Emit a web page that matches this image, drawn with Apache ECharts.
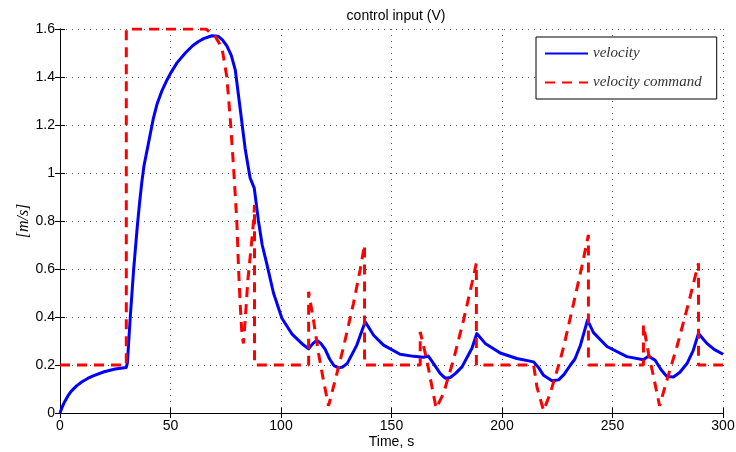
<!DOCTYPE html>
<html>
<head>
<meta charset="utf-8">
<script src="https://cdn.jsdelivr.net/npm/echarts@6/dist/echarts.min.js"></script>
<style>
html,body{margin:0;padding:0;background:#fff;}
#chart{width:736px;height:452px;}
</style>
</head>
<body>
<div id="chart"></div>
<script>
// ---- data ----
var xTicks = [0, 50, 100, 150, 200, 250, 300];
var yTicks = [0, 0.2, 0.4, 0.6, 0.8, 1, 1.2, 1.4, 1.6];

var velocityTime = [0, 1, 2, 3.5, 5, 7.5, 10, 12.5, 15, 20, 25, 30, 30.5, 31.8, 33.3, 35, 36, 37, 38, 39.3, 41, 42.3, 44, 46, 48, 50, 53, 56.7, 60, 62.7, 65, 68.7,
  71.5, 73.5, 75.5, 77.5, 79.3, 81.5, 83.8, 86, 87.9, 89.8, 91.5, 93.6, 96.6, 100.4, 104.9, 110.2, 112.5, 114.5, 116.2,
  118, 120, 122, 124, 126, 128, 130, 134.3, 138.1, 141.9, 146.4, 153.9, 160, 164.5, 166.7, 169.8, 172, 174.3,
  176.6, 179, 181.9, 186.4, 188.6, 192.4, 199.2, 206.7, 214.3, 216.5, 218.8, 222.6, 225.6, 228, 230.9, 233,
  235.4, 238.7, 241.4, 247.5, 256.5, 264, 266.3, 269.3, 272, 274.6, 277.6, 280.5, 283.7, 286.5, 288.9, 292.7,
  296, 300];
var velocityValue = [0, 0.025, 0.045, 0.07, 0.09, 0.113, 0.13, 0.144, 0.155, 0.172, 0.183, 0.19, 0.21, 0.40, 0.595, 0.78, 0.875, 0.96, 1.03, 1.09, 1.17, 1.23, 1.29, 1.34, 1.38, 1.415, 1.46, 1.50, 1.53, 1.548, 1.56, 1.572,
  1.57, 1.555, 1.53, 1.49, 1.43, 1.27, 1.10, 0.98, 0.937, 0.80, 0.70, 0.62, 0.50, 0.395, 0.33, 0.283, 0.268, 0.29, 0.303,
  0.29, 0.265, 0.225, 0.197, 0.188, 0.192, 0.207, 0.283, 0.38, 0.324, 0.283, 0.245, 0.236, 0.232, 0.237, 0.195, 0.165, 0.145,
  0.148, 0.165, 0.192, 0.27, 0.331, 0.29, 0.25, 0.227, 0.213, 0.19, 0.157, 0.134, 0.138, 0.16, 0.199, 0.225,
  0.28, 0.387, 0.335, 0.277, 0.235, 0.222, 0.237, 0.22, 0.18, 0.152, 0.15, 0.17, 0.206, 0.26, 0.331, 0.29,
  0.265, 0.245];

var commandTime = [0, 30, 30, 66, 70.2, 73.3, 75.5, 77, 78.5, 80, 80.8, 81.5, 82.3, 83, 83.8, 85, 86.8, 87.6, 88, 88,
  112.5, 112.5, 114.7, 117, 119.2, 121.5, 124.5, 128.3, 132.8, 135.8, 137.8, 137.8,
  163, 163, 166, 168.3, 170.2, 173.5, 178, 182.6, 186.4, 188.4, 188.4,
  214.3, 215.8, 218.8, 221.8, 226.3, 228, 232.4, 236.1, 239.1, 239.1,
  264, 264, 266.3, 268.6, 271.3, 274.6, 279.1, 284.4, 288.9, 288.9, 300];
var commandValue = [0.2, 0.2, 1.6, 1.6, 1.57, 1.52, 1.40, 1.23, 1.03, 0.80, 0.60, 0.46, 0.33, 0.29, 0.387, 0.554, 0.72, 0.80, 0.867, 0.2,
  0.2, 0.505, 0.387, 0.248, 0.136, 0.03, 0.136, 0.275, 0.457, 0.596, 0.70, 0.2,
  0.2, 0.338, 0.22, 0.109, 0.02, 0.081, 0.22, 0.387, 0.54, 0.624, 0.2,
  0.2, 0.109, 0.01, 0.081, 0.22, 0.28, 0.457, 0.609, 0.742, 0.2,
  0.2, 0.366, 0.248, 0.15, 0.03, 0.136, 0.275, 0.457, 0.624, 0.2, 0.2];

function zip(a, b) { return a.map(function (v, i) { return [v, b[i]]; }); }

var font = '"Liberation Sans", Arial, sans-serif';
var serif = '"Liberation Serif", "Times New Roman", serif';

var chart = echarts.init(document.getElementById('chart'), null, {renderer: 'canvas'});

var gridLine = {show: true, lineStyle: {color: '#555', width: 1, type: [1, 5]}};
var tick = {show: true, inside: true, length: 5, lineStyle: {color: '#000', width: 1}};
var axisLine = {show: true, lineStyle: {color: '#000', width: 1}};

chart.setOption({
  animation: false,
  backgroundColor: '#fff',
  title: {
    text: 'control input (V)', left: 391, top: 4, textAlign: 'center',
    textStyle: {fontFamily: font, fontSize: 14, fontWeight: 'normal', color: '#000'}
  },
  grid: {left: 60, right: 13, top: 29, bottom: 39, containLabel: false, outerBoundsMode: 'none'},
  legend: {
    left: 536, top: 37, orient: 'vertical',
    itemWidth: 43, itemHeight: 14, itemGap: 14,
    padding: [9, 15, 9, 8],
    borderColor: '#000', borderWidth: 1, backgroundColor: '#fff',
    itemStyle: {opacity: 0},
    textStyle: {fontFamily: serif, fontStyle: 'italic', fontSize: 15, color: '#333', lineHeight: 14},
    data: ['velocity', 'velocity command']
  },
  xAxis: [{
    type: 'value', min: 0, max: 300, interval: 50, position: 'bottom',
    name: 'Time, s', nameLocation: 'middle', nameGap: 22, nameMoveOverlap: false,
    nameTextStyle: {fontFamily: font, fontSize: 14, color: '#000'},
    axisLine: axisLine, axisTick: tick, splitLine: gridLine,
    axisLabel: {fontFamily: font, fontSize: 14, color: '#000', margin: 6}
  }, {
    type: 'value', min: 0, max: 300, interval: 50, position: 'top',
    axisLine: axisLine, axisTick: tick, splitLine: {show: false}, axisLabel: {show: false}
  }],
  yAxis: [{
    type: 'value', min: 0, max: 1.6, interval: 0.2, position: 'left',
    name: '[m/s]', nameLocation: 'middle', nameGap: 28, nameMoveOverlap: false,
    nameTextStyle: {fontFamily: serif, fontStyle: 'italic', fontSize: 16, color: '#000'},
    axisLine: axisLine, axisTick: tick, splitLine: gridLine,
    axisLabel: {fontFamily: font, fontSize: 14, color: '#000', margin: 5}
  }, {
    type: 'value', min: 0, max: 1.6, interval: 0.2, position: 'right',
    axisLine: axisLine, axisTick: tick, splitLine: {show: false}, axisLabel: {show: false}
  }],
  series: [{
    name: 'velocity', type: 'line', data: zip(velocityTime, velocityValue),
    showSymbol: false, symbol: 'none', smooth: false, z: 3,
    lineStyle: {color: '#0000ff', width: 3, join: 'round'},
    itemStyle: {color: '#0000ff'}
  }, {
    name: 'velocity command', type: 'line', data: zip(commandTime, commandValue),
    showSymbol: false, symbol: 'none', smooth: false, z: 4,
    lineStyle: {color: '#ff0000', width: 3, type: [10, 7]},
    itemStyle: {color: '#ff0000'}
  }]
});
</script>
</body>
</html>
